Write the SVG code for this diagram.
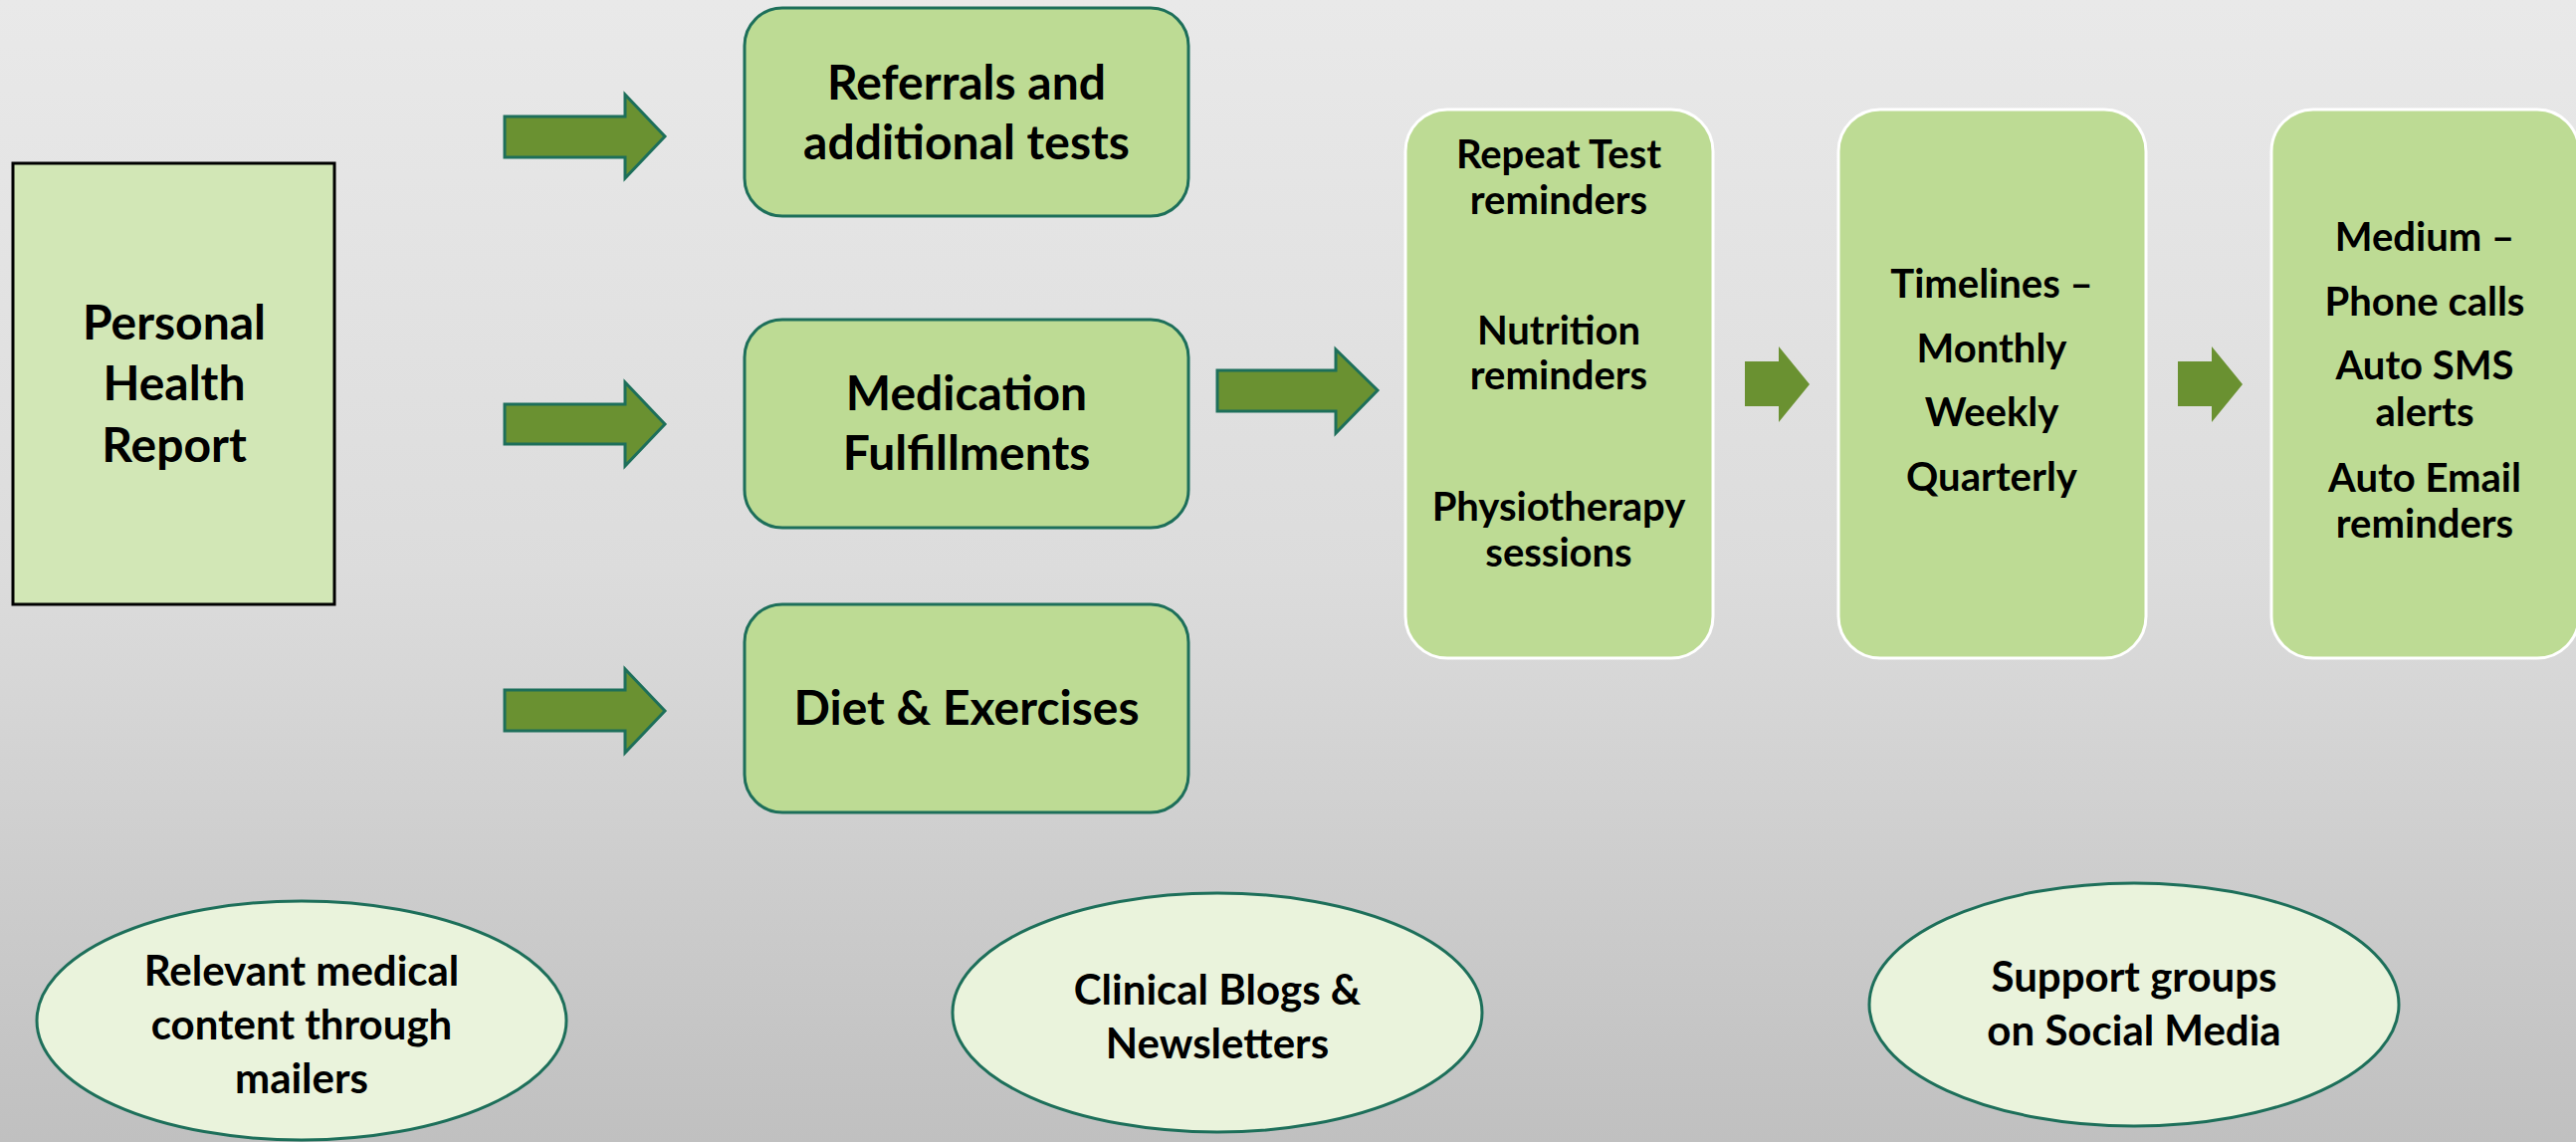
<svg xmlns="http://www.w3.org/2000/svg" width="2588" height="1147" viewBox="0 0 2588 1147">
  <defs>
    <linearGradient id="bg" x1="0" y1="0" x2="0" y2="1">
      <stop offset="0" stop-color="#e9e9e9"/>
      <stop offset="0.5" stop-color="#dcdcdc"/>
      <stop offset="1" stop-color="#c0c0c0"/>
    </linearGradient>
    <style>
      text { font-family: Lato, "Liberation Sans", sans-serif; font-weight: bold; fill: #000; text-anchor: middle; }
      .big { font-size: 48px; }
      .mid { font-size: 40px; }
      .oval-text { font-size: 42px; }
      .box { fill: #bddb94; stroke: #1d6f5a; stroke-width: 3; }
      .report { fill: #d2e7b6; stroke: #000; stroke-width: 3; }
      .tall { fill: #bddb94; stroke: #ffffff; stroke-width: 3; }
      .oval { fill: #eaf3dc; stroke: #1d6f5a; stroke-width: 3; }
      .arrow { fill: #6a9131; stroke: #1d6f5a; stroke-width: 3; }
      .arrow-plain { fill: #6a9131; }
    </style>
  </defs>

  <rect x="0" y="0" width="2588" height="1147" fill="url(#bg)"/>

  <!-- connectors -->
  <g id="connectors">
    <polygon class="arrow" points="507,117 628,117 628,95 668,137 628,179 628,158 507,158"/>
    <polygon class="arrow" points="507,406 628,406 628,384 668,426 628,468 628,446 507,446"/>
    <polygon class="arrow" points="507,693 628,693 628,672 668,714 628,756 628,734 507,734"/>
    <polygon class="arrow" points="1223,372 1342,372 1342,351 1384,392 1342,435 1342,413 1223,413"/>
    <polygon class="arrow-plain" points="1753,363 1787,363 1787,348 1818,386 1787,424 1787,408 1753,408"/>
    <polygon class="arrow-plain" points="2188,363 2222,363 2222,348 2253,386 2222,424 2222,408 2188,408"/>
  </g>

  <!-- source report -->
  <g id="personal-health-report">
    <rect class="report" x="13" y="164" width="323" height="443"/>
    <text class="big" x="175" y="341">Personal</text>
    <text class="big" x="175" y="402">Health</text>
    <text class="big" x="175" y="464">Report</text>
  </g>

  <!-- outcome boxes -->
  <g id="referrals">
    <rect class="box" x="748" y="8" width="446" height="209" rx="38" ry="38"/>
    <text class="big" x="971" y="100">Referrals and</text>
    <text class="big" x="971" y="160">additional tests</text>
  </g>

  <g id="medication">
    <rect class="box" x="748" y="321" width="446" height="209" rx="38" ry="38"/>
    <text class="big" x="971" y="412">Medication</text>
    <text class="big" x="971" y="472">Fulfillments</text>
  </g>

  <g id="diet">
    <rect class="box" x="748" y="607" width="446" height="209" rx="38" ry="38"/>
    <text class="big" x="971" y="728">Diet &amp; Exercises</text>
  </g>

  <!-- reminder pipeline -->
  <g id="reminders">
    <rect class="tall" x="1412" y="110" width="309" height="551" rx="42" ry="42"/>
    <text class="mid" x="1566" y="169">Repeat Test</text>
    <text class="mid" x="1566" y="215">reminders</text>
    <text class="mid" x="1566" y="346">Nutrition</text>
    <text class="mid" x="1566" y="391">reminders</text>
    <text class="mid" x="1566" y="523">Physiotherapy</text>
    <text class="mid" x="1566" y="569">sessions</text>
  </g>

  <g id="timelines">
    <rect class="tall" x="1847" y="110" width="309" height="551" rx="42" ry="42"/>
    <text class="mid" x="2001" y="299">Timelines –</text>
    <text class="mid" x="2001" y="364">Monthly</text>
    <text class="mid" x="2001" y="428">Weekly</text>
    <text class="mid" x="2001" y="493">Quarterly</text>
  </g>

  <g id="medium">
    <rect class="tall" x="2282" y="110" width="309" height="551" rx="42" ry="42"/>
    <text class="mid" x="2436" y="252">Medium –</text>
    <text class="mid" x="2436" y="317">Phone calls</text>
    <text class="mid" x="2436" y="381">Auto SMS</text>
    <text class="mid" x="2436" y="428">alerts</text>
    <text class="mid" x="2436" y="494">Auto Email</text>
    <text class="mid" x="2436" y="540">reminders</text>
  </g>

  <!-- engagement channels -->
  <g id="mailers">
    <ellipse class="oval" cx="303" cy="1025" rx="266" ry="120"/>
    <text class="oval-text" x="303" y="990">Relevant medical</text>
    <text class="oval-text" x="303" y="1044">content through</text>
    <text class="oval-text" x="303" y="1098">mailers</text>
  </g>

  <g id="blogs">
    <ellipse class="oval" cx="1223" cy="1017" rx="266" ry="120"/>
    <text class="oval-text" x="1223" y="1009">Clinical Blogs &amp;</text>
    <text class="oval-text" x="1223" y="1063">Newsletters</text>
  </g>

  <g id="support-groups">
    <ellipse class="oval" cx="2144" cy="1009" rx="266" ry="122"/>
    <text class="oval-text" x="2144" y="996">Support groups</text>
    <text class="oval-text" x="2144" y="1050">on Social Media</text>
  </g>
</svg>
